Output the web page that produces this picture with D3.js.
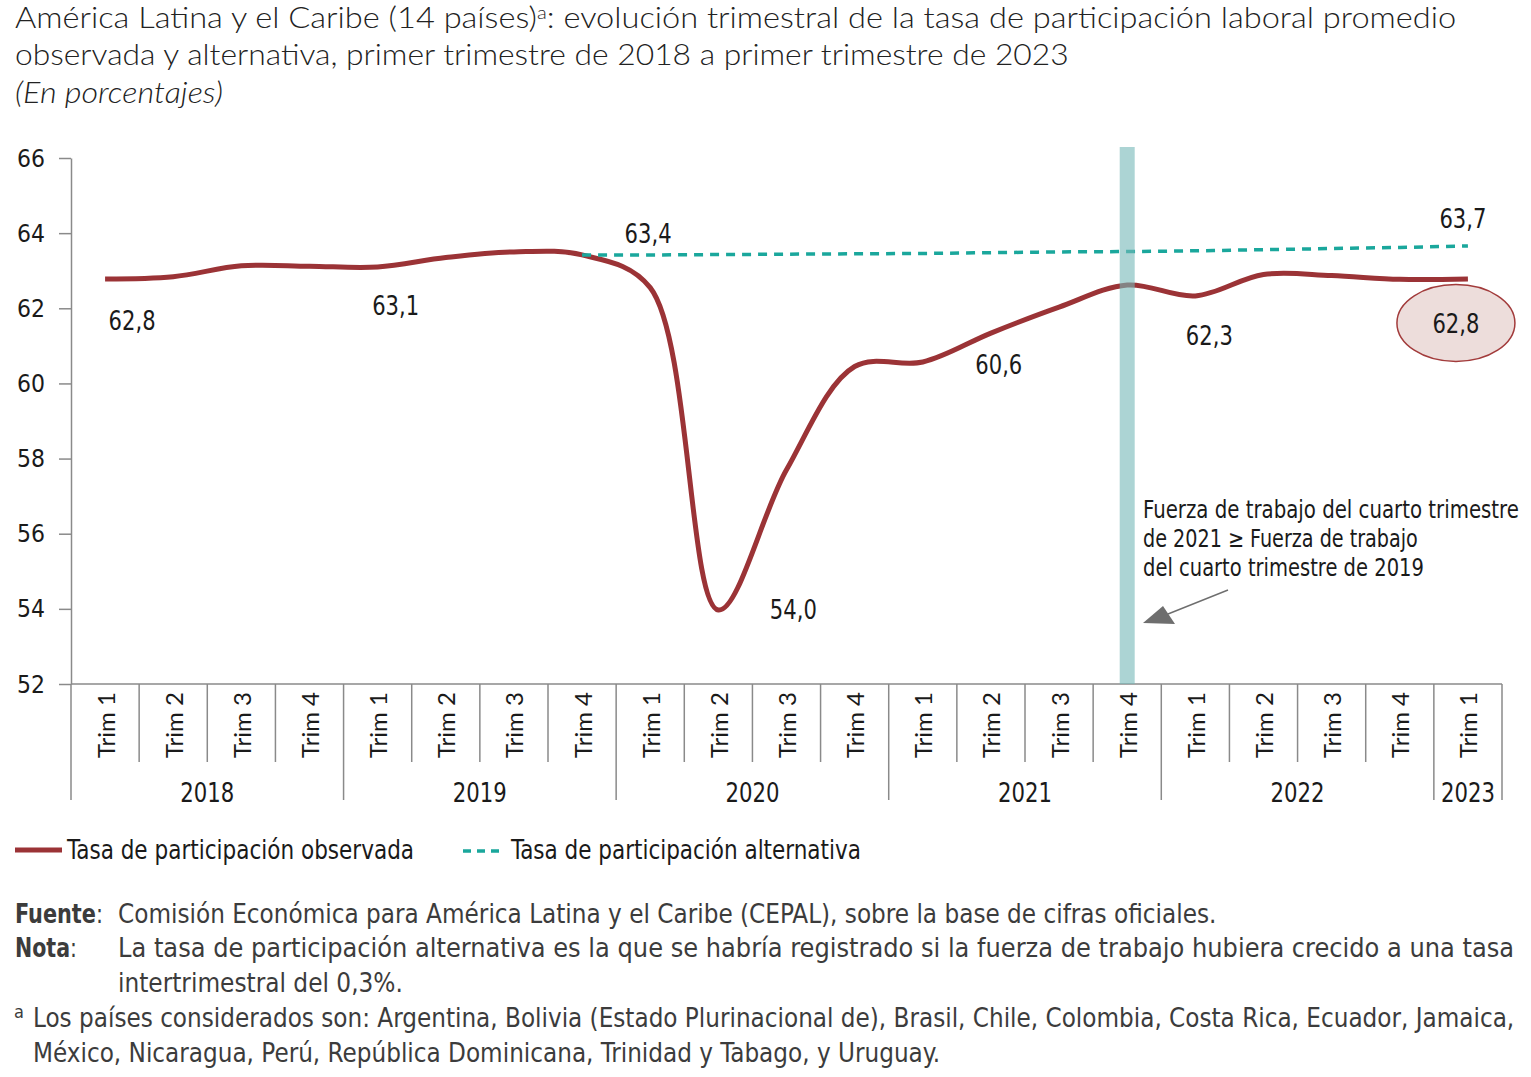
<!DOCTYPE html>
<html><head><meta charset="utf-8">
<script src="https://cdn.jsdelivr.net/npm/d3@7"></script>
<style>
body{margin:0;background:#fff;}
svg{display:block;}
</style></head><body>
<svg id="c" width="1531" height="1077"></svg>
<script>
// ---------- DATA ----------
const years = ["2018","2019","2020","2021","2022","2023"];
const quarterLabels = ["Trim 1","Trim 2","Trim 3","Trim 4","Trim 1","Trim 2","Trim 3","Trim 4","Trim 1","Trim 2","Trim 3","Trim 4","Trim 1","Trim 2","Trim 3","Trim 4","Trim 1","Trim 2","Trim 3","Trim 4","Trim 1"];
const periodYear = ["2018","2018","2018","2018","2019","2019","2019","2019","2020","2020","2020","2020","2021","2021","2021","2021","2022","2022","2022","2022","2023"];
const observed = [62.78,62.84,63.13,63.12,63.10,63.35,63.50,63.42,62.55,53.97,57.70,60.45,60.57,61.34,62.03,62.62,62.33,62.90,62.87,62.77,62.78];
const altStart = 7; // index of 2019 Trim 4
const alternative = [63.42,63.42,63.43,63.44,63.45,63.46,63.48,63.50,63.51,63.53,63.56,63.59,63.62,63.66];
const yTicks = [52,54,56,58,60,62,64,66];
const obsLabelIdx = [0,4,9,12,16,20];
const obsLabelTxt = ["62,8","63,1","54,0","60,6","62,3","62,8"];
const altLabelIdx = [7,20];
const altLabelTxt = ["63,4","63,7"];
const highlightIdx = 15;

const titleL1a = "América Latina y el Caribe (14 países)";
const titleL1b = ": evolución trimestral de la tasa de participación laboral promedio";
const titleL2 = "observada y alternativa, primer trimestre de 2018 a primer trimestre de 2023";
const subtitle = "(En porcentajes)";
const annot = ["Fuerza de trabajo del cuarto trimestre","de 2021 ≥ Fuerza de trabajo","del cuarto trimestre de 2019"];
const legendObs = "Tasa de participación observada";
const legendAlt = "Tasa de participación alternativa";
const fuente = "Comisión Económica para América Latina y el Caribe (CEPAL), sobre la base de cifras oficiales.";
const nota1 = "La tasa de participación alternativa es la que se habría registrado si la fuerza de trabajo hubiera crecido a una tasa";
const nota2 = "intertrimestral del 0,3%.";
const fnA1 = "Los países considerados son: Argentina, Bolivia (Estado Plurinacional de), Brasil, Chile, Colombia, Costa Rica, Ecuador, Jamaica,";
const fnA2 = "México, Nicaragua, Perú, República Dominicana, Trinidad y Tabago, y Uruguay.";

// ---------- STYLE ----------
const COND = "'Liberation Sans Narrow','DejaVu Sans Condensed','Roboto',sans-serif";
const TITLEF = "'Lato','Open Sans','Roboto',sans-serif";
const GEO = "'Lato','DejaVu Sans',sans-serif";
const RED = "#9b3336", TEAL = "#1aa79c", AX = "#8a8a8a", TXT = "#1a1a1a", FOOT = "#3c3c3c";

const svg = d3.select("#c");
const plot = {left:71, right:1502, top:158, bottom:684};
const x = d3.scaleBand().domain(d3.range(observed.length)).range([plot.left, plot.right]);
const y = d3.scaleLinear().domain([52,66]).range([plot.bottom, plot.top]);
const cx = i => x(i) + x.bandwidth()/2;
const bw = x.bandwidth();

// fit text horizontally to target width, scaling about anchor x
function fitW(sel, w){
  sel.each(function(){
    const n = this;
    const bb = n.getBBox();
    if (!bb.width) return;
    const s = w / bb.width;
    const ax = +d3.select(n).attr("x") || 0;
    d3.select(n).attr("transform", `translate(${ax},0) scale(${s},1) translate(${-ax},0)`);
  });
}

// ---------- TITLE ----------
const t1 = svg.append("text").attr("x",15).attr("y",28).attr("font-family",TITLEF).attr("font-weight",300)
  .attr("font-size",29).attr("fill","#222");
t1.append("tspan").text(titleL1a);
t1.append("tspan").attr("font-size",18).attr("dy",-9).text("a");
t1.append("tspan").attr("dy",9).text(titleL1b);
fitW(t1, 1442);
const t2 = svg.append("text").attr("x",15).attr("y",65).attr("font-family",TITLEF).attr("font-weight",300)
  .attr("font-size",29).attr("fill","#222").text(titleL2);
fitW(t2, 1054);
const t3 = svg.append("text").attr("x",15).attr("y",103).attr("font-family",TITLEF).attr("font-weight",300)
  .attr("font-style","italic").attr("font-size",29).attr("fill","#222").text(subtitle);
fitW(t3, 208);

// ---------- AXES ----------
const yAxis = svg.append("g").attr("transform",`translate(${plot.left},0)`)
  .call(d3.axisLeft(y).tickValues(yTicks).tickSize(12).tickPadding(14).tickSizeOuter(0));
yAxis.select(".domain").attr("stroke",AX).attr("stroke-width",1.5);
yAxis.selectAll(".tick line").attr("stroke",AX).attr("stroke-width",1.5);
yAxis.selectAll(".tick text").attr("font-family",COND).attr("font-size",25).attr("fill",TXT)
  .attr("x",-26).attr("text-anchor","end");
yAxis.selectAll(".tick text").each(function(){ fitW(d3.select(this), 28); });

// x axis baseline
svg.append("line").attr("x1",plot.left).attr("x2",plot.right).attr("y1",plot.bottom).attr("y2",plot.bottom)
  .attr("stroke",AX).attr("stroke-width",1.5);

// separators
const seps = d3.range(observed.length+1).map(i => {
  const isYear = i===0 || i===observed.length || periodYear[i] !== periodYear[i-1];
  return {xp: i<observed.length ? x(i) : plot.right, long: isYear};
});
svg.append("g").selectAll("line").data(seps).join("line")
  .attr("x1",d=>d.xp).attr("x2",d=>d.xp).attr("y1",plot.bottom)
  .attr("y2",d=> d.long ? 800 : 762)
  .attr("stroke",AX).attr("stroke-width",1.5);

// quarter labels
svg.append("g").selectAll("text").data(quarterLabels).join("text")
  .attr("transform",(d,i)=>`translate(${cx(i)},${plot.bottom+8}) rotate(-90)`)
  .attr("text-anchor","end").attr("dominant-baseline","central")
  .attr("font-family",GEO).attr("font-size",24).attr("fill",TXT).text(d=>d)
  .each(function(){
    const bb=this.getBBox(); const s=66/bb.width;
    const cur=d3.select(this).attr("transform");
    d3.select(this).attr("transform", cur+` scale(${s},1)`);
  });

// year labels
const yearGroups = years.map(yr => {
  const idx = d3.range(observed.length).filter(i=>periodYear[i]===yr);
  const x0 = x(idx[0]), x1 = x(idx[idx.length-1]) + bw;
  return {yr, xm:(x0+x1)/2};
});
svg.append("g").selectAll("text").data(yearGroups).join("text")
  .attr("x",d=>d.xm).attr("y",802).attr("text-anchor","middle")
  .attr("font-family",COND).attr("font-size",26).attr("fill",TXT).text(d=>d.yr)
  .each(function(){ fitW(d3.select(this), 54); });

// ---------- LINES ----------
const obsLine = d3.line().x((d,i)=>cx(i)).y(d=>y(d)).curve(d3.curveCatmullRom.alpha(0.5));
svg.append("path").datum(observed).attr("d",obsLine).attr("fill","none")
  .attr("stroke",RED).attr("stroke-width",5).attr("stroke-linejoin","round");

const altLine = d3.line().x((d,i)=>cx(i+altStart)).y(d=>y(d)).curve(d3.curveMonotoneX);
svg.append("path").datum(alternative).attr("d",altLine).attr("fill","none")
  .attr("stroke",TEAL).attr("stroke-width",3.5).attr("stroke-dasharray","9,7");

// highlight bar (on top, translucent)
svg.append("rect").attr("x",cx(highlightIdx)-7.5).attr("width",15)
  .attr("y",plot.top-11).attr("height",plot.bottom-(plot.top-11))
  .attr("fill","#74b8b8").attr("opacity",0.6);

// ---------- LABELS ----------
const obsOff = [[27,42],[18,39],[75,0],[76,3],[14,40],[-12,45]];
const altOff = [[66,-21],[-5,-27]];
// ellipse behind last label
{
  const k = obsLabelIdx.length-1;
  const i = obsLabelIdx[k];
  svg.append("ellipse").attr("cx",cx(i)+obsOff[k][0]).attr("cy",y(observed[i])+obsOff[k][1]-1)
    .attr("rx",59).attr("ry",38.5).attr("fill","#eddddb").attr("stroke","#a23b3b").attr("stroke-width",1.5);
}
svg.append("g").selectAll("text").data(obsLabelIdx).join("text")
  .attr("x",(d,k)=>cx(d)+obsOff[k][0]).attr("y",(d,k)=>y(observed[d])+obsOff[k][1])
  .attr("text-anchor","middle").attr("dominant-baseline","central")
  .attr("font-family",COND).attr("font-size",26).attr("fill",TXT).text((d,k)=>obsLabelTxt[k])
  .each(function(){ fitW(d3.select(this), 47); });
svg.append("g").selectAll("text").data(altLabelIdx).join("text")
  .attr("x",(d,k)=>cx(d)+altOff[k][0]).attr("y",(d,k)=>y(alternative[d-altStart])+altOff[k][1])
  .attr("text-anchor","middle").attr("dominant-baseline","central")
  .attr("font-family",COND).attr("font-size",26).attr("fill",TXT).text((d,k)=>altLabelTxt[k])
  .each(function(){ fitW(d3.select(this), 47); });

// annotation
const annW = [376, 275, 281];
annot.forEach((s,k)=>{
  const t = svg.append("text").attr("x",1143).attr("y",518+k*29).attr("font-family",COND)
    .attr("font-size",24).attr("fill",TXT).text(s);
  fitW(t, annW[k]);
});
svg.append("line").attr("x1",1228).attr("y1",590).attr("x2",1168).attr("y2",614)
  .attr("stroke","#6e6e6e").attr("stroke-width",1.5);
svg.append("path").attr("d","M1143,623 L1163,606 L1175,624 Z").attr("fill","#6e6e6e");

// ---------- LEGEND ----------
svg.append("line").attr("x1",15).attr("x2",62).attr("y1",850).attr("y2",850).attr("stroke",RED).attr("stroke-width",5);
fitW(svg.append("text").attr("x",67).attr("y",859).attr("font-family",COND).attr("font-size",26).attr("fill",TXT).text(legendObs), 348);
svg.append("line").attr("x1",463).attr("x2",500).attr("y1",851).attr("y2",851).attr("stroke",TEAL).attr("stroke-width",3.5).attr("stroke-dasharray","8,6");
fitW(svg.append("text").attr("x",511).attr("y",859).attr("font-family",COND).attr("font-size",26).attr("fill",TXT).text(legendAlt), 351);

// ---------- FOOTER ----------
function ft(xp, yp, txt, w, weight){
  const t = svg.append("text").attr("x",xp).attr("y",yp).attr("font-family",COND).attr("font-size",27)
    .attr("fill",FOOT).attr("font-weight",weight||400).text(txt);
  if (w) fitW(t, w);
  return t;
}
const f1 = svg.append("text").attr("x",15).attr("y",923).attr("font-family",COND).attr("font-size",27).attr("fill",FOOT);
f1.append("tspan").attr("font-weight",700).text("Fuente");
f1.append("tspan").text(":");
fitW(f1, 88);
ft(118, 923, fuente, 1099);
const f2 = svg.append("text").attr("x",15).attr("y",957).attr("font-family",COND).attr("font-size",27).attr("fill",FOOT);
f2.append("tspan").attr("font-weight",700).text("Nota");
f2.append("tspan").text(":");
fitW(f2, 62);
ft(118, 957, nota1, 1397);
ft(118, 992, nota2, 285);
svg.append("text").attr("x",14).attr("y",1018).attr("font-family",COND).attr("font-size",18).attr("fill",FOOT).text("a");
ft(33, 1027, fnA1, 1482);
ft(33, 1062, fnA2, 908);
</script>
</body></html>
